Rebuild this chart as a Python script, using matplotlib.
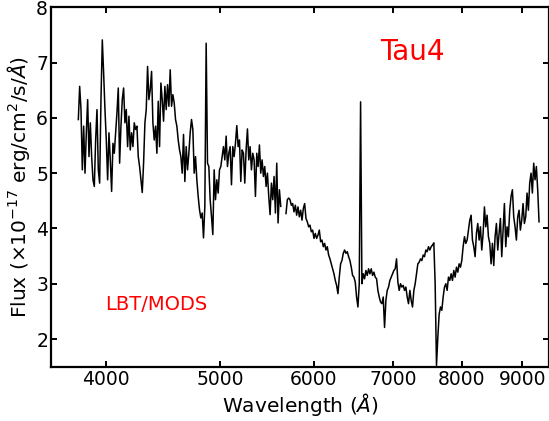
import matplotlib
matplotlib.use("Agg")
import matplotlib.pyplot as plt
from matplotlib.ticker import FixedLocator, FixedFormatter, NullLocator
import numpy as np

# Blue channel (MODS blue), sampled on an even log-wavelength grid
blue_start, blue_end = 3793.0, 5624.0
blue_flux = [
    5.97, 6.57, 6.15, 5.06, 5.85, 5.00, 5.73, 6.33, 5.30, 5.91,
    5.30, 4.88, 4.76, 5.60, 6.15, 5.06, 4.82, 6.33, 7.41, 6.81,
    6.15, 5.60, 4.88, 5.73, 5.24, 4.67, 5.54, 5.36, 5.73, 6.09,
    6.54, 5.18, 5.85, 6.33, 6.54, 5.91, 6.15, 5.48, 6.03, 5.42,
    5.73, 5.48, 5.91, 5.79, 5.85, 5.30, 5.12, 4.88, 4.65, 5.18,
    5.91, 6.15, 6.93, 6.33, 6.51, 6.84, 5.91, 5.60, 5.85, 5.36,
    6.30, 5.48, 6.63, 6.33, 5.94, 6.57, 6.15, 6.60, 6.21, 6.87,
    6.21, 6.42, 6.27, 5.97, 5.85, 5.60, 5.42, 5.30, 5.00, 5.70,
    4.85, 5.48, 5.06, 5.36, 5.73, 5.97, 5.79, 5.00, 5.30, 4.88,
    4.58, 4.34, 4.19, 4.28, 3.83, 4.40, 7.35, 5.18, 5.12, 4.52,
    4.22, 3.89, 5.06, 4.52, 4.88, 4.64, 5.06, 5.12, 5.30, 5.48,
    5.24, 5.67, 5.12, 5.36, 5.48, 4.79, 5.48, 5.30, 5.54, 5.86,
    5.48, 5.60, 4.85, 5.42, 5.36, 4.82, 5.42, 5.80, 5.24, 5.48,
    5.06, 5.36, 5.24, 4.58, 5.36, 5.12, 5.51, 5.00, 5.24, 4.94,
    5.12, 4.76, 5.00, 4.58, 4.25, 4.82, 4.52, 4.94, 4.28, 5.18,
    4.10, 4.70, 4.40,
]

# Red channel (MODS red)
red_start, red_end = 5682.0, 9297.0
red_flux = [
    4.27, 4.52, 4.55, 4.52, 4.42, 4.45, 4.30, 4.42, 4.24, 4.39,
    4.21, 4.33, 4.15, 4.36, 4.45, 4.18, 4.12, 4.03, 4.06, 3.94,
    3.97, 3.82, 3.91, 3.82, 3.88, 3.97, 3.76, 3.79, 3.67, 3.73,
    3.61, 3.67, 3.52, 3.45, 3.36, 3.27, 3.18, 3.06, 2.97, 2.82,
    3.12, 3.36, 3.42, 3.55, 3.61, 3.55, 3.58, 3.49, 3.42, 3.30,
    3.15, 3.12, 3.03, 2.76, 2.58, 3.00, 6.29, 3.00, 3.18, 3.09,
    3.24, 3.15, 3.27, 3.18, 3.27, 3.15, 3.21, 3.12, 3.09, 2.88,
    2.76, 2.67, 2.64, 2.76, 2.21, 2.70, 2.88, 2.94, 3.06, 3.12,
    3.18, 3.24, 3.27, 3.45, 3.03, 2.88, 3.00, 2.94, 2.97, 2.88,
    2.94, 2.76, 2.64, 2.88, 2.70, 2.58, 2.88, 3.00, 3.18, 3.36,
    3.39, 3.45, 3.42, 3.52, 3.49, 3.61, 3.58, 3.67, 3.61, 3.67,
    3.70, 3.74, 3.00, 1.52, 2.03, 2.45, 2.58, 2.52, 2.76, 2.94,
    3.00, 2.88, 3.12, 3.06, 3.18, 3.06, 3.24, 3.12, 3.30, 3.21,
    3.36, 3.30, 3.42, 3.67, 3.85, 3.73, 3.79, 3.97, 4.15, 4.24,
    3.79, 3.67, 3.49, 3.91, 4.09, 3.79, 4.03, 3.61, 3.91, 4.39,
    4.03, 4.24, 3.85, 3.73, 3.36, 3.73, 3.33, 3.85, 4.09, 3.61,
    3.91, 4.18, 3.49, 3.97, 4.45, 3.67, 4.03, 3.85, 4.33, 4.58,
    4.70, 4.21, 4.03, 3.79, 4.21, 4.33, 3.97, 4.15, 4.45, 4.09,
    4.21, 4.64, 4.33, 4.82, 5.00, 4.64, 5.18, 4.88, 5.12, 4.70,
    4.12,
]

xticks = [4000, 5000, 6000, 7000, 8000, 9000]
yticks = [2, 3, 4, 5, 6, 7, 8]

blue_wave = np.geomspace(blue_start, blue_end, len(blue_flux))
red_wave = np.geomspace(red_start, red_end, len(red_flux))

fig = plt.figure(figsize=(5.49, 4.21), dpi=100)
ax = fig.add_axes([0.0938, 0.129, 0.9053, 0.8537])

ax.plot(blue_wave, blue_flux, color="k", linewidth=1.1)
ax.plot(red_wave, red_flux, color="k", linewidth=1.1)

ax.set_xscale("log")
ax.set_xlim(3600, 9470)
ax.set_ylim(1.5, 8)
ax.xaxis.set_major_locator(FixedLocator(xticks))
ax.xaxis.set_major_formatter(FixedFormatter([str(t) for t in xticks]))
ax.xaxis.set_minor_locator(NullLocator())
ax.set_yticks(yticks)

for s in ax.spines.values():
    s.set_linewidth(1.6)
ax.tick_params(direction="in", top=True, right=True, length=4.5, width=1.4,
               labelsize=13.5, pad=2.5)

ax.set_xlabel(r"Wavelength ($\AA$)", fontsize=14.5, labelpad=1.5)
ax.set_ylabel(r"Flux ($\times 10^{-17}$ erg/cm$^2$/s/$\AA$)", fontsize=14.5,
              labelpad=3)

ax.text(0.727, 0.876, "Tau4", color="red", fontsize=20,
        ha="center", va="center", transform=ax.transAxes)
ax.text(0.108, 0.172, "LBT/MODS", color="red", fontsize=14,
        ha="left", va="center", transform=ax.transAxes)

fig.savefig("out.png", dpi=100)
